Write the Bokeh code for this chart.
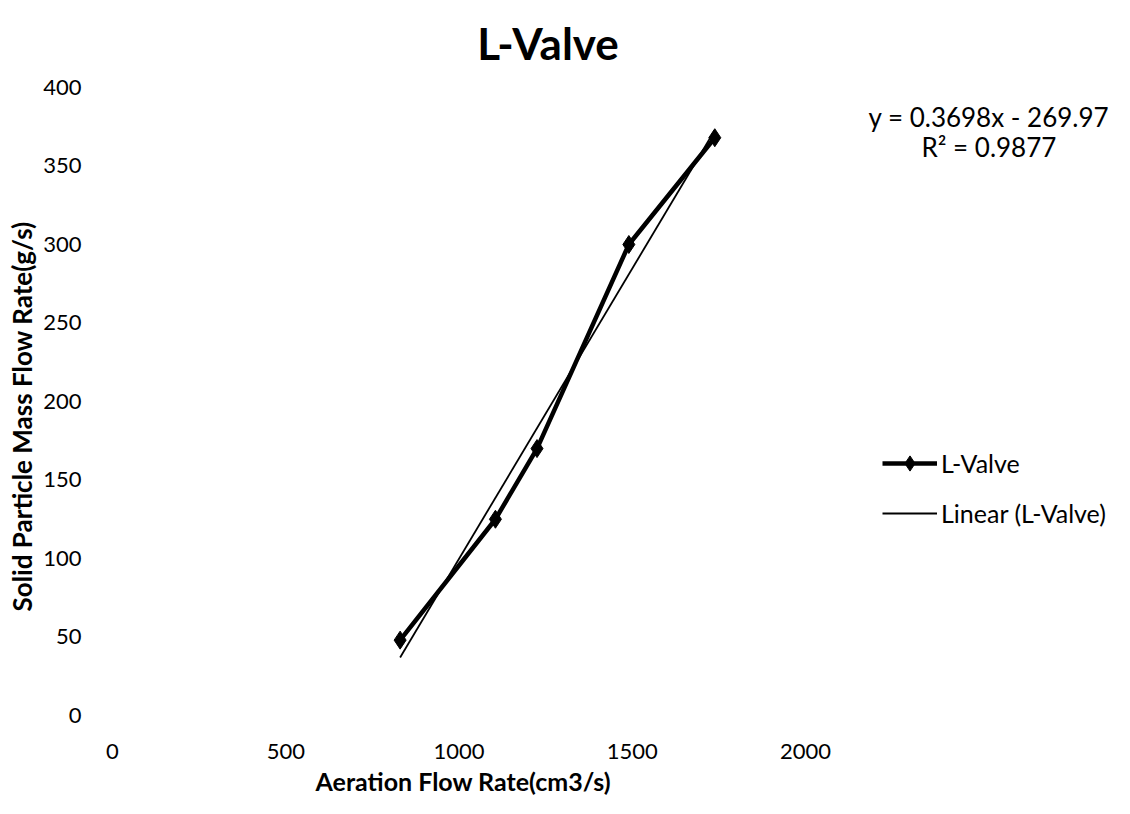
from bokeh.plotting import figure
from bokeh.models import (Range1d, FixedTicker, Label, Legend, LegendItem, Title)
from bokeh.embed import file_html
from bokeh.resources import INLINE

# ---- data ----
aeration = [830, 1105, 1225, 1490, 1738]        # cm3/s
mass_flow = [48, 125, 170, 300, 368]            # g/s
x_ticks = [0, 500, 1000, 1500, 2000]
y_ticks = [0, 50, 100, 150, 200, 250, 300, 350, 400]
trend_slope = 0.3698
trend_intercept = -269.97
r_squared = 0.9877
chart_title = "L-Valve"
x_title = "Aeration Flow Rate(cm3/s)"
y_title = "Solid Particle Mass Flow Rate(g/s)"
series_name = "L-Valve"
trend_name = "Linear (L-Valve)"

FONT = "Lato"

# frame extended to the right/top so that legend, equation and title sit inside it
p = figure(width=1114, height=798, output_backend="svg", toolbar_location=None,
           x_range=Range1d(0, 2877), y_range=Range1d(0, 455.4),
           min_border_left=102, min_border_right=5,
           min_border_top=0, min_border_bottom=83)
p.outline_line_color = None
p.background_fill_color = "white"
p.border_fill_color = "white"
p.xgrid.grid_line_color = None
p.ygrid.grid_line_color = None

p.xaxis.ticker = FixedTicker(ticks=x_ticks)
p.yaxis.ticker = FixedTicker(ticks=y_ticks)
for ax in (p.xaxis, p.yaxis):
    ax.axis_line_color = None
    ax.major_tick_line_color = None
    ax.minor_tick_line_color = None
    ax.major_label_text_font = FONT
    ax.major_label_text_font_size = "22px"
    ax.major_label_text_color = "black"
p.xaxis.major_label_standoff = 22
p.yaxis.major_label_standoff = 25

# axis titles as side-panel titles (positioned along the 0..2000 / 0..400 region)
p.add_layout(Title(text=x_title, align="left", offset=203, standoff=4,
                   text_font=FONT, text_font_size="25px", text_font_style="bold",
                   text_color="black"), "below")
p.add_layout(Title(text=y_title, align="left", offset=104, standoff=6,
                   text_font=FONT, text_font_size="26px", text_font_style="bold",
                   text_color="black"), "left")

# trendline
tx = [min(aeration), max(aeration)]
ty = [trend_slope * v + trend_intercept for v in tx]
r_trend = p.line(tx, ty, line_color="black", line_width=1.8)

# data series
r_line = p.line(aeration, mass_flow, line_color="black", line_width=4.5)
r_pts = p.scatter(aeration, mass_flow, marker="diamond", size=18,
                  fill_color="black", line_color="black")

legend = Legend(items=[LegendItem(label=series_name, renderers=[r_line, r_pts]),
                       LegendItem(label=trend_name, renderers=[r_trend])],
                location=(770, 183), padding=0, margin=0, spacing=12,
                glyph_width=55, glyph_height=38, label_height=38, label_standoff=4,
                label_text_font=FONT, label_text_font_size="25px",
                label_text_color="black",
                border_line_color=None, background_fill_alpha=0)
p.add_layout(legend)

# chart title
p.add_layout(Label(x=1257, y=428.5, text=chart_title, text_font=FONT,
                   text_font_size="44px", text_font_style="bold",
                   text_align="center", text_baseline="alphabetic", text_color="black"))

# trendline equation
p.add_layout(Label(x=2529, y=381, text=f"y = {trend_slope}x - {abs(trend_intercept)}",
                   text_font=FONT, text_font_size="26px", text_align="center",
                   text_baseline="middle", text_color="black"))
p.add_layout(Label(x=2529, y=362, text=f"R² = {r_squared}",
                   text_font=FONT, text_font_size="26px", text_align="center",
                   text_baseline="middle", text_color="black"))

open("out.html", "w").write(file_html(p, INLINE))
